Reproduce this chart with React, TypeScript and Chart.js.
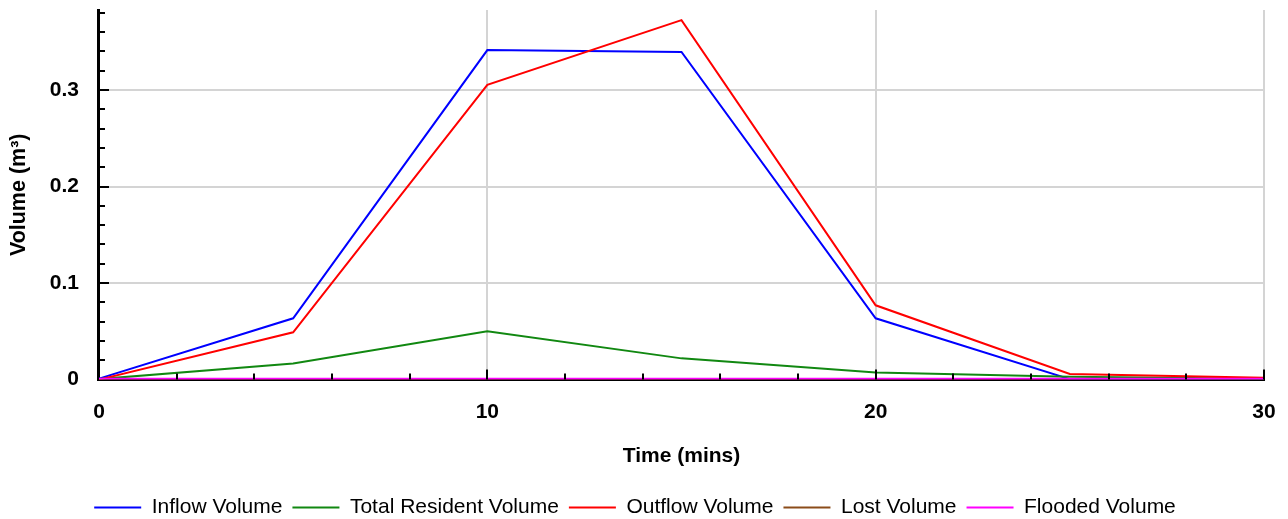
import React, { useEffect, useRef } from "react";
import { Chart, registerables } from "chart.js";

Chart.register(...registerables);

const times = [0, 5, 10, 15, 20, 25, 30];
const inflowVolume = [0.001, 0.0635, 0.3415, 0.3395, 0.0635, 0.0005, 0.0];
const totalResidentVolume = [0.0005, 0.0167, 0.05, 0.022, 0.0073, 0.003, 0.0008];
const outflowVolume = [0.0, 0.049, 0.3055, 0.3725, 0.077, 0.0058, 0.002];
const lostVolume = [0, 0, 0, 0, 0, 0, 0];
const floodedVolume = [0.001, 0.001, 0.001, 0.001, 0.001, 0.001, 0.001];

const seriesNames = ["Inflow Volume", "Total Resident Volume", "Outflow Volume", "Lost Volume", "Flooded Volume"];
const seriesColors = ["#0000ff", "#118811", "#ff0000", "#8b4c1a", "#ff00ff"];
const seriesData = [inflowVolume, totalResidentVolume, outflowVolume, lostVolume, floodedVolume];

const xMin = 0;
const xMax = 30;
const yMin = 0;
const yMax = 0.383;

const FONT = "Liberation Sans, Arial, sans-serif";

const innerTicks = {
  id: "innerTicks",
  afterDatasetsDraw(chart: any) {
    const ctx = chart.ctx;
    const xs = chart.scales.x;
    const ys = chart.scales.y;
    const area = chart.chartArea;
    ctx.save();
    ctx.strokeStyle = "#000";
    ctx.lineWidth = 2;
    for (let v = 2; v <= 30; v += 2) {
      const px = Math.round(xs.getPixelForValue(v));
      const len = v % 10 === 0 ? 10 : 6;
      ctx.beginPath();
      ctx.moveTo(px, area.bottom);
      ctx.lineTo(px, area.bottom - len);
      ctx.stroke();
    }
    for (let i = 1; i * 0.02 <= yMax + 1e-9; i++) {
      const v = i * 0.02;
      const py = Math.round(ys.getPixelForValue(v));
      const len = i % 5 === 0 ? 10 : 6;
      ctx.beginPath();
      ctx.moveTo(area.left, py);
      ctx.lineTo(area.left + len, py);
      ctx.stroke();
    }
    ctx.restore();
  },
};

export default function App() {
  const ref = useRef<HTMLCanvasElement | null>(null);
  useEffect(() => {
    document.body.style.margin = "0";
    if (!ref.current) return;
    const chart = new Chart(ref.current, {
      type: "line",
      data: {
        datasets: seriesNames.map((name, i) => ({
          label: name,
          data: times.map((t, j) => ({ x: t, y: seriesData[i][j] })),
          borderColor: seriesColors[i],
          backgroundColor: seriesColors[i],
          borderWidth: 2,
          pointRadius: 0,
          tension: 0,
          order: seriesNames.length - i,
        })),
      },
      options: {
        animation: false,
        responsive: false,
        maintainAspectRatio: false,
        layout: { padding: { top: 10, right: 24, left: 6, bottom: -9 } },
        plugins: {
          tooltip: { enabled: false },
          legend: {
            position: "bottom",
            labels: {
              boxWidth: 47,
              boxHeight: 0,
              padding: 10,
              color: "#000",
              font: { family: FONT, size: 21 },
              sort: (a: any, b: any) => a.datasetIndex - b.datasetIndex,
            },
          },
        },
        scales: {
          x: {
            type: "linear",
            min: xMin,
            max: xMax,
            afterFit: (scale: any) => {
              scale.paddingLeft = 0;
              scale.paddingRight = 0;
            },
            ticks: {
              stepSize: 10,
              padding: 20,
              color: "#000",
              font: { family: FONT, size: 21, weight: "bold" },
              maxRotation: 0,
            },
            grid: {
              drawTicks: false,
              color: (c: any) => (c.tick && c.tick.value === 0 ? "rgba(0,0,0,0)" : "#d4d4d4"),
              lineWidth: 2,
            },
            border: { color: "#000", width: 3 },
            title: {
              display: true,
              text: "Time (mins)",
              color: "#000",
              font: { family: FONT, size: 21, weight: "bold" },
              padding: { top: -1, bottom: 18 },
            },
          },
          y: {
            type: "linear",
            min: yMin,
            max: yMax,
            afterBuildTicks: (scale: any) => {
              scale.ticks = scale.ticks.filter(
                (t: any) => Math.abs(t.value * 10 - Math.round(t.value * 10)) < 1e-6
              );
            },
            afterFit: (scale: any) => {
              scale.paddingTop = 0;
              scale.paddingBottom = 0;
            },
            ticks: {
              stepSize: 0.1,
              padding: 20,
              color: "#000",
              font: { family: FONT, size: 21, weight: "bold" },
            },
            grid: {
              drawTicks: false,
              color: (c: any) => (c.tick && c.tick.value === 0 ? "rgba(0,0,0,0)" : "#d4d4d4"),
              lineWidth: 2,
            },
            border: { color: "#000", width: 3 },
            title: {
              display: true,
              text: "Volume (m³)",
              color: "#000",
              font: { family: FONT, size: 21.5, weight: "bold" },
              padding: { top: 0, bottom: -2 },
            },
          },
        },
      },
      plugins: [innerTicks],
    });
    return () => chart.destroy();
  }, []);
  return (
    <div style={{ width: 1288, height: 519 }}>
      <canvas ref={ref} width={1288} height={519} style={{ width: 1288, height: 519, display: "block" }} />
    </div>
  );
}
